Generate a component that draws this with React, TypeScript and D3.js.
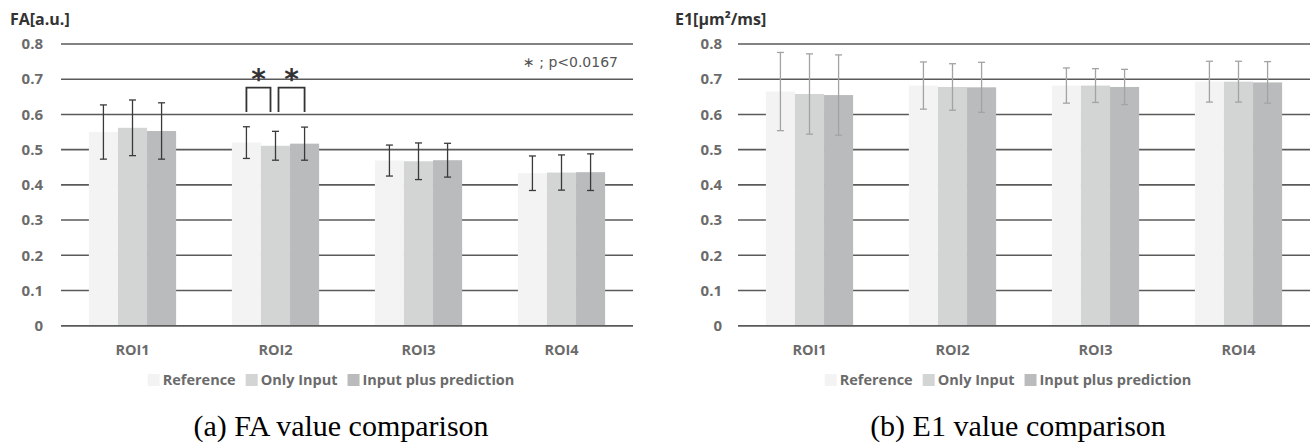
import React, { useEffect, useRef } from "react";
import * as d3 from "d3";

const categories = ["ROI1", "ROI2", "ROI3", "ROI4"];
const seriesNames = ["Reference", "Only Input", "Input plus prediction"];
const seriesColors = ["#f3f3f3", "#d3d4d4", "#babbbc"];
const yTicks = [0, 0.1, 0.2, 0.3, 0.4, 0.5, 0.6, 0.7, 0.8];

// FA panel
const faReference = [0.55, 0.52, 0.469, 0.433];
const faOnlyInput = [0.562, 0.511, 0.467, 0.435];
const faInputPlus = [0.553, 0.517, 0.47, 0.436];
const faReferenceSd = [0.077, 0.045, 0.044, 0.049];
const faOnlyInputSd = [0.079, 0.041, 0.052, 0.05];
const faInputPlusSd = [0.08, 0.047, 0.048, 0.052];

// E1 panel
const e1Reference = [0.665, 0.682, 0.682, 0.693];
const e1OnlyInput = [0.658, 0.678, 0.682, 0.693];
const e1InputPlus = [0.655, 0.677, 0.678, 0.691];
const e1ReferenceSd = [0.111, 0.067, 0.05, 0.058];
const e1OnlyInputSd = [0.114, 0.066, 0.048, 0.058];
const e1InputPlusSd = [0.114, 0.071, 0.05, 0.059];

// significance brackets (FA only)
const faSignificance = [
  { category: "ROI2", from: 0, to: 1 },
  { category: "ROI2", from: 1, to: 2 },
];

const W = 1316;
const H = 447;
const SANS = "'Open Sans', 'Noto Sans', sans-serif";

type Panel = {
  left: number;
  right: number;
  title: string;
  titleX: number;
  tickGap: number;
  caption: string;
  means: number[][];
  sds: number[][];
  errColor: string;
  brackets?: { category: string; from: number; to: number }[];
  note?: string;
};

function drawPanel(svg: d3.Selection<SVGSVGElement, unknown, null, undefined>, p: Panel) {
  const top = 44;
  const bottom = 325.7;
  const g = svg.append("g");

  const x0 = d3.scaleBand<string>().domain(categories).range([p.left, p.right]).paddingInner(0.39).paddingOuter(0.195);
  const x1 = d3.scaleBand<number>().domain(d3.range(seriesNames.length)).range([0, x0.bandwidth()]);
  const y = d3.scaleLinear().domain([0, 0.8]).range([bottom, top]);

  // grid
  g.selectAll(".grid")
    .data(yTicks)
    .join("line")
    .attr("x1", p.left)
    .attr("x2", p.right)
    .attr("y1", (d) => y(d))
    .attr("y2", (d) => y(d))
    .attr("stroke", "#5a5a5a")
    .attr("stroke-width", 1.6);

  // tick labels
  g.selectAll(".tick")
    .data(yTicks)
    .join("text")
    .attr("x", p.left - p.tickGap)
    .attr("y", (d) => y(d))
    .attr("dy", "0.35em")
    .attr("text-anchor", "end")
    .attr("font-family", SANS)
    .attr("font-size", 15)
    .attr("font-weight", 700)
    .attr("fill", "#6b6b6b")
    .text((d) => (d === 0 ? "0" : d3.format(".1f")(d)));

  const rows = categories.flatMap((c, ci) =>
    seriesNames.map((_, si) => ({ c, si, v: p.means[si][ci], sd: p.sds[si][ci] }))
  );

  g.selectAll(".bar")
    .data(rows)
    .join("rect")
    .attr("x", (d) => x0(d.c)! + x1(d.si)!)
    .attr("width", x1.bandwidth())
    .attr("y", (d) => y(d.v))
    .attr("height", (d) => y(0) - y(d.v))
    .attr("fill", (d) => seriesColors[d.si]);

  // redraw baseline on top
  g.append("line")
    .attr("x1", p.left)
    .attr("x2", p.right)
    .attr("y1", y(0))
    .attr("y2", y(0))
    .attr("stroke", "#5a5a5a")
    .attr("stroke-width", 1.6);

  // error bars
  const cap = 3.5;
  const cx = (d: { c: string; si: number }) => x0(d.c)! + x1(d.si)! + x1.bandwidth() / 2;
  const eb = g.selectAll(".err").data(rows).join("g");
  eb.append("line")
    .attr("x1", cx)
    .attr("x2", cx)
    .attr("y1", (d) => y(d.v + d.sd))
    .attr("y2", (d) => y(d.v - d.sd));
  eb.append("line")
    .attr("x1", (d) => cx(d) - cap)
    .attr("x2", (d) => cx(d) + cap)
    .attr("y1", (d) => y(d.v + d.sd))
    .attr("y2", (d) => y(d.v + d.sd));
  eb.append("line")
    .attr("x1", (d) => cx(d) - cap)
    .attr("x2", (d) => cx(d) + cap)
    .attr("y1", (d) => y(d.v - d.sd))
    .attr("y2", (d) => y(d.v - d.sd));
  eb.selectAll("line").attr("stroke", p.errColor).attr("stroke-width", 1.3);

  // category labels
  g.selectAll(".cat")
    .data(categories)
    .join("text")
    .attr("x", (d) => x0(d)! + x0.bandwidth() / 2)
    .attr("y", 355)
    .attr("text-anchor", "middle")
    .attr("font-family", SANS)
    .attr("font-size", 14.5)
    .attr("font-weight", 700)
    .attr("fill", "#6b6b6b")
    .text((d) => d);

  // axis title
  g.append("text")
    .attr("x", p.titleX)
    .attr("y", 25)
    .attr("font-family", SANS)
    .attr("font-size", 16)
    .attr("font-weight", 700)
    .attr("fill", "#333")
    .text(p.title);

  // significance
  if (p.brackets) {
    const mid = (si: number, c: string) => x0(c)! + x1(si)! + x1.bandwidth() / 2;
    p.brackets.forEach((b, i) => {
      const xa = mid(b.from, b.category) + (i === 0 ? 0 : 3);
      const xb = mid(b.to, b.category) - (i === 0 ? 5 : 0);
      g.append("path")
        .attr("d", `M${xa},${y(0.607)}V${y(0.676)}H${xb}V${y(0.607)}`)
        .attr("fill", "none")
        .attr("stroke", "#333")
        .attr("stroke-width", 1.8);
      g.append("text")
        .attr("x", (xa + xb) / 2)
        .attr("y", y(0.676) + 1)
        .attr("text-anchor", "middle")
        .attr("font-family", "'DejaVu Sans', sans-serif")
        .attr("font-size", 28)
        .attr("font-weight", 700)
        .attr("fill", "#333")
        .text("*");
    });
  }
  if (p.note) {
    g.append("text")
      .attr("x", p.right - 15)
      .attr("y", 67)
      .attr("text-anchor", "end")
      .attr("font-family", "'DejaVu Sans', sans-serif")
      .attr("font-size", 14)
      .attr("fill", "#555")
      .text(p.note);
  }

  // legend
  const lg = g.append("g");
  let lx = 0;
  seriesNames.forEach((s, i) => {
    lg.append("rect").attr("x", lx).attr("y", -10).attr("width", 12).attr("height", 12).attr("fill", seriesColors[i]);
    const t = lg
      .append("text")
      .attr("x", lx + 15)
      .attr("y", 1)
      .attr("font-family", SANS)
      .attr("font-size", 14.5)
      .attr("font-weight", 700)
      .attr("fill", "#6b6b6b")
      .text(s);
    lx += 15 + (t.node() as SVGTextElement).getComputedTextLength() + 10;
  });
  lx -= 10;
  lg.attr("transform", `translate(${(p.left + p.right) / 2 - 16 - lx / 2},384)`);

  // caption
  g.append("text")
    .attr("x", (p.left + p.right) / 2 - 6)
    .attr("y", 436)
    .attr("text-anchor", "middle")
    .attr("font-family", "'Liberation Serif', 'Times New Roman', serif")
    .attr("font-size", 30)
    .attr("fill", "#000")
    .text(p.caption);
}

export default function App() {
  const ref = useRef<SVGSVGElement>(null);

  useEffect(() => {
    if (!ref.current) return;
    const svg = d3.select(ref.current);
    svg.selectAll("*").remove();
    drawPanel(svg, {
      left: 61,
      right: 633,
      title: "FA[a.u.]",
      titleX: 10,
      tickGap: 18,
      caption: "(a) FA value comparison",
      means: [faReference, faOnlyInput, faInputPlus],
      sds: [faReferenceSd, faOnlyInputSd, faInputPlusSd],
      errColor: "#3a3a3a",
      brackets: faSignificance,
      note: "∗ ; p<0.0167",
    });
    drawPanel(svg, {
      left: 738,
      right: 1310,
      title: "E1[μm²/ms]",
      titleX: 675,
      tickGap: 16,
      caption: "(b) E1 value comparison",
      means: [e1Reference, e1OnlyInput, e1InputPlus],
      sds: [e1ReferenceSd, e1OnlyInputSd, e1InputPlusSd],
      errColor: "#a3a3a3",
    });
  }, []);

  return (
    <div style={{ position: "absolute", left: 0, top: 0 }}>
      <svg ref={ref} width={W} height={H} style={{ display: "block", background: "#fff" }} />
    </div>
  );
}
